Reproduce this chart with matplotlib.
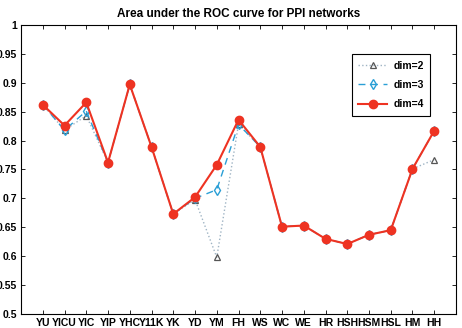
import numpy as np
import matplotlib
matplotlib.use("Agg")
import matplotlib.pyplot as plt

plt.rcParams['font.family'] = ['Liberation Sans', 'DejaVu Sans']

labels = ["YU", "YICU", "YIC", "YIP", "YHC", "Y11K", "YK", "YD", "YM", "FH",
          "WS", "WC", "WE", "HR", "HSH", "HSM", "HSL", "HM", "HH"]
dim2 = [0.862, 0.818, 0.843, 0.762, 0.897, 0.789, 0.673, 0.698, 0.598, 0.828,
        0.789, 0.651, 0.653, 0.630, 0.621, 0.637, 0.645, 0.751, 0.767]
dim3 = [0.862, 0.818, 0.851, 0.762, 0.897, 0.789, 0.673, 0.700, 0.715, 0.828,
        0.789, 0.651, 0.653, 0.630, 0.621, 0.637, 0.645, 0.751, 0.817]
dim4 = [0.862, 0.826, 0.866, 0.762, 0.897, 0.789, 0.673, 0.702, 0.758, 0.836,
        0.789, 0.651, 0.653, 0.630, 0.621, 0.637, 0.645, 0.751, 0.817]

x = np.arange(1, len(labels) + 1)

fig = plt.figure(figsize=(4.62, 3.28), dpi=100)
ax = fig.add_axes([0.0455, 0.0427, 0.9415, 0.8813])

ax.plot(x, dim2, linestyle=':', color='#9fb4c4', linewidth=1.0,
        marker='^', markersize=5, markerfacecolor='none',
        markeredgecolor='#555555', markeredgewidth=0.9, label='dim=2')
ax.plot(x, dim3, linestyle=(0, (5, 4)), color='#2a9fd6', linewidth=1.0,
        marker='d', markersize=5, markerfacecolor='none',
        markeredgecolor='#2a9fd6', markeredgewidth=1.0, label='dim=3')
ax.plot(x, dim4, linestyle='-', color='#ee3322', linewidth=1.5,
        marker='o', markersize=6, markerfacecolor='#ee3322',
        markeredgecolor='#ee3322', label='dim=4')

ax.set_xlim(0, 20)
ax.set_ylim(0.5, 1.0)
ax.set_xticks(x)
ax.set_xticklabels(labels, fontsize=7.5, fontweight='bold')
yt = np.arange(0.5, 1.001, 0.05)
ax.set_yticks(yt)
ax.set_yticklabels(['%g' % v for v in yt], fontsize=7.5, fontweight='bold')
ax.tick_params(direction='in', top=True, right=True, length=3, pad=3, width=0.6)
for s in ax.spines.values():
    s.set_linewidth(0.8)

ax.set_title('Area under the ROC curve for PPI networks', fontsize=8.5,
             fontweight='bold', pad=6)

leg = ax.legend(loc='upper right', bbox_to_anchor=(0.945, 0.905),
                prop={'weight': 'bold', 'size': 7.5},
                fancybox=False, edgecolor='black', framealpha=1,
                handlelength=2.8, handletextpad=0.6, borderpad=0.6,
                labelspacing=0.9, borderaxespad=0.2)
leg.get_frame().set_linewidth(0.8)

fig.savefig('out.png', dpi=100)
